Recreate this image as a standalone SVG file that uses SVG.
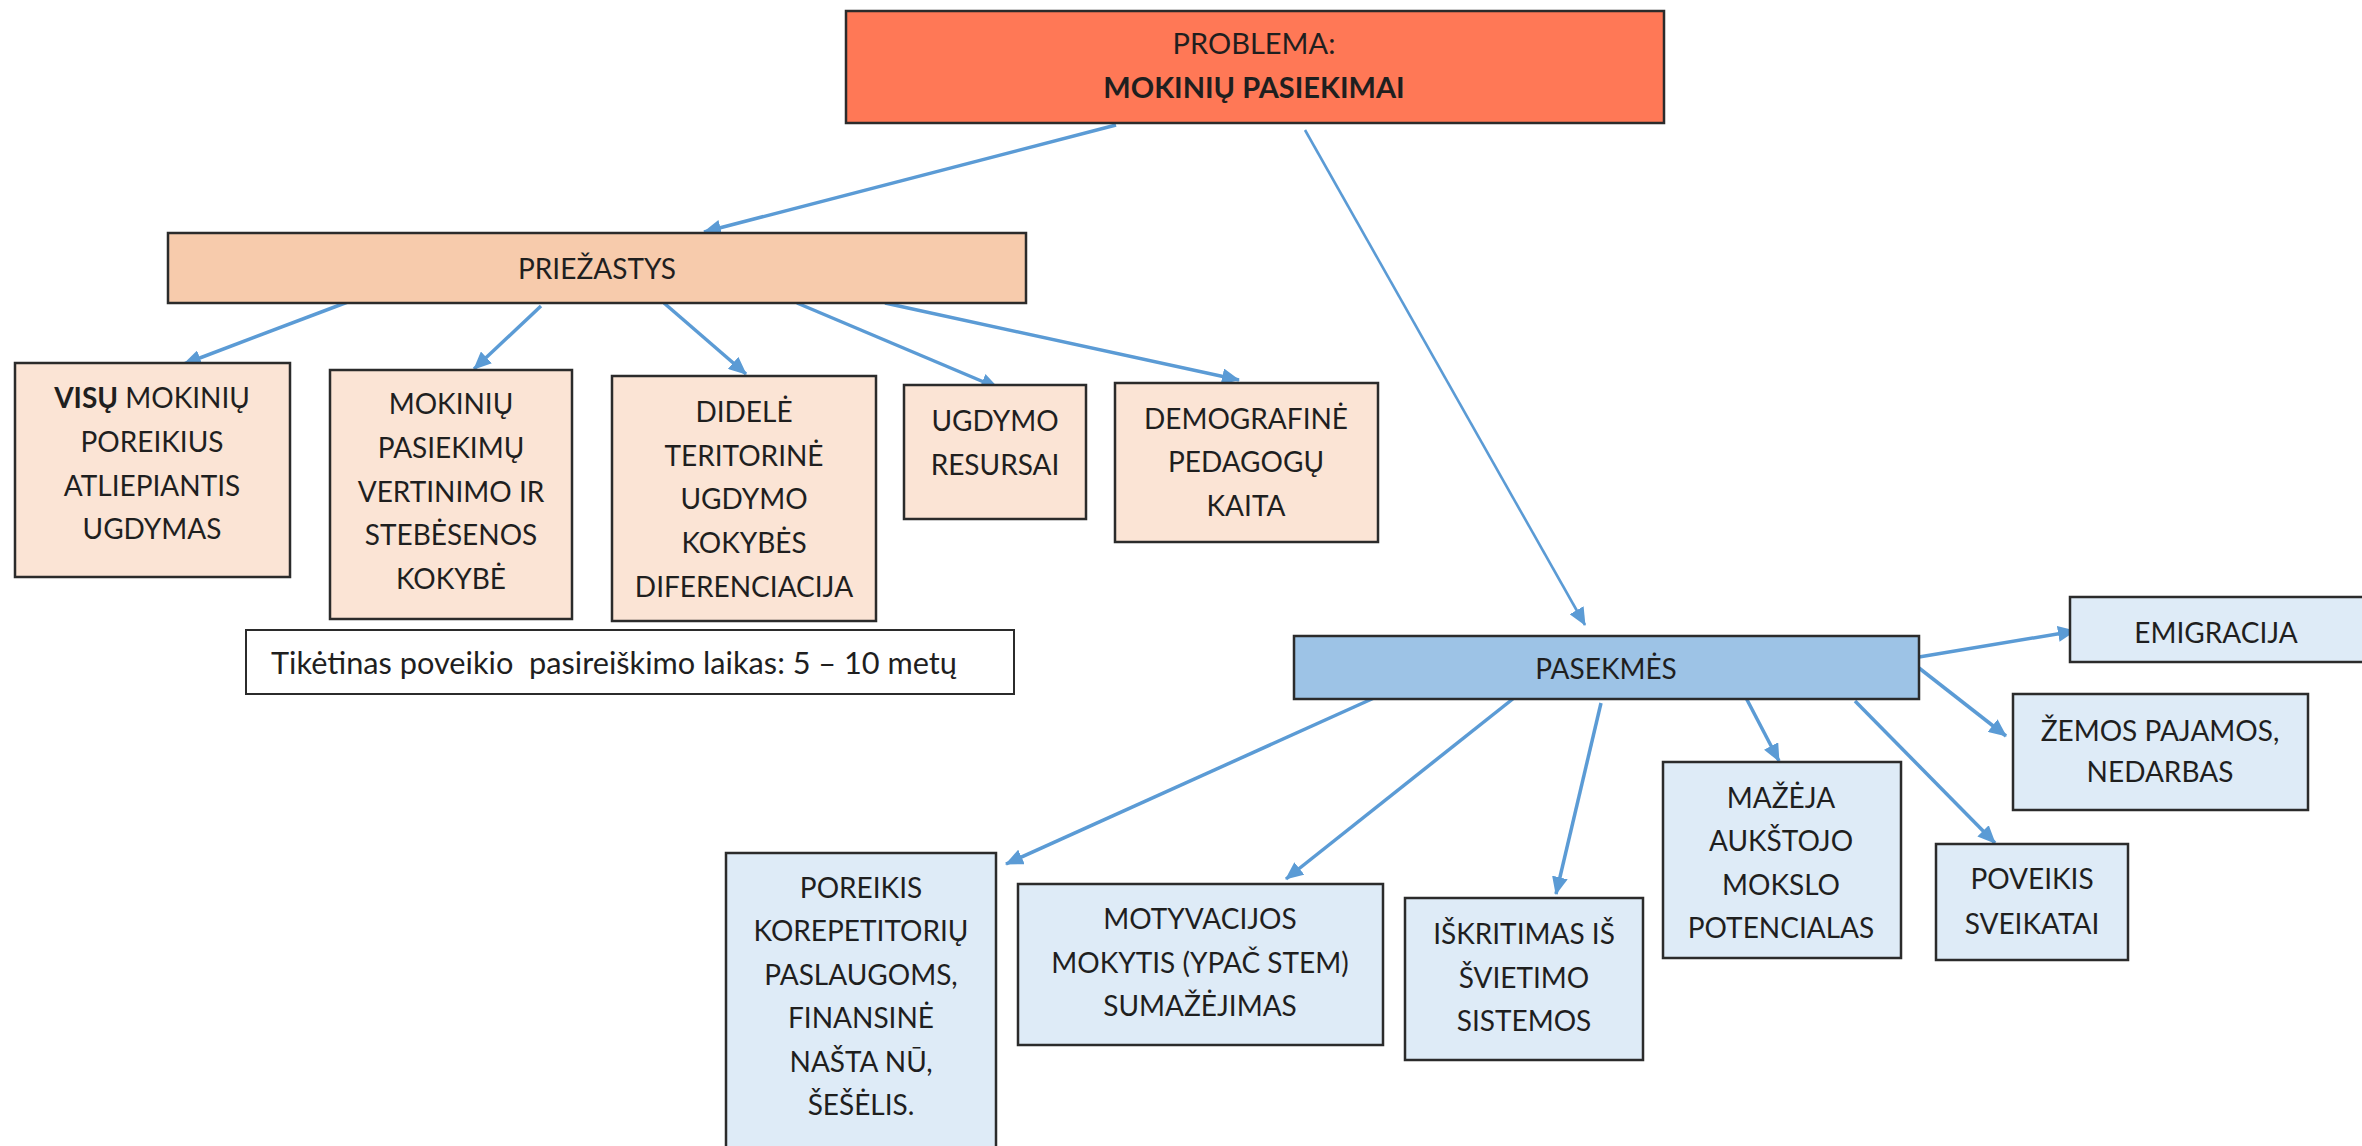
<svg xmlns="http://www.w3.org/2000/svg" width="2362" height="1146" viewBox="0 0 2362 1146">
<style>
  .bx { stroke: #2b2b2b; stroke-width: 2.5; }
  .prob { fill: #FF7856; }
  .cause-h { fill: #F7CBAC; }
  .cause { fill: #FBE4D5; }
  .cons-h { fill: #9DC3E6; }
  .cons { fill: #DEEBF7; }
  .note { fill: #ffffff; stroke: #2b2b2b; stroke-width: 2; }
  text { font-family: Lato, "Open Sans", "DejaVu Sans", sans-serif; font-size: 28px; fill: #1f1f1f; text-anchor: middle; }
  .b { font-weight: bold; }
  .big { font-size: 29px; }
  .l { text-anchor: start; font-size: 30px; }
  .conn line { stroke: #5B9BD5; stroke-width: 3.5; fill: none; }
  .conn line.thin { stroke-width: 2.6; }
</style>
<defs>
  <marker id="ah" markerUnits="userSpaceOnUse" markerWidth="18" markerHeight="16" refX="17" refY="8" orient="auto">
    <path d="M0,0 L18,8 L0,16 Z" fill="#5B9BD5"/>
  </marker>
</defs>
<rect width="2362" height="1146" fill="#ffffff"/>

<g class="conn">
  <line x1="1116" y1="125" x2="704" y2="232" marker-end="url(#ah)"/>
  <line class="thin" x1="1305" y1="130" x2="1585" y2="625" marker-end="url(#ah)"/>
  <line x1="353" y1="300" x2="184" y2="364" marker-end="url(#ah)"/>
  <line x1="541" y1="306" x2="474" y2="369" marker-end="url(#ah)"/>
  <line x1="664" y1="303" x2="746" y2="374" marker-end="url(#ah)"/>
  <line x1="797" y1="303" x2="998" y2="388" marker-end="url(#ah)"/>
  <line x1="885" y1="303" x2="1239" y2="380" marker-end="url(#ah)"/>
  <line x1="1374" y1="698" x2="1006" y2="864" marker-end="url(#ah)"/>
  <line x1="1514" y1="698" x2="1286" y2="879" marker-end="url(#ah)"/>
  <line x1="1601" y1="703" x2="1556" y2="894" marker-end="url(#ah)"/>
  <line x1="1744" y1="694" x2="1779" y2="761" marker-end="url(#ah)"/>
  <line x1="1855" y1="701" x2="1995" y2="843" marker-end="url(#ah)"/>
  <line x1="1919" y1="668" x2="2006" y2="736" marker-end="url(#ah)"/>
  <line x1="1919" y1="657" x2="2075" y2="631" marker-end="url(#ah)"/>
</g>

<g id="problema">
  <rect class="bx prob" x="846" y="11" width="818" height="112"/>
  <text class="big" x="1254" y="54">PROBLEMA:</text>
  <text class="b big" x="1254" y="98">MOKINIŲ PASIEKIMAI</text>
</g>

<g id="priezastys">
  <rect class="bx cause-h" x="168" y="233" width="858" height="70"/>
  <text x="597" y="279">PRIEŽASTYS</text>
</g>

<g id="c1">
  <rect class="bx cause" x="15" y="363" width="275" height="214"/>
  <text x="152" y="408"><tspan class="b">VISŲ</tspan> MOKINIŲ</text>
  <text x="152" y="452">POREIKIUS</text>
  <text x="152" y="496">ATLIEPIANTIS</text>
  <text x="152" y="539">UGDYMAS</text>
</g>

<g id="c2">
  <rect class="bx cause" x="330" y="370" width="242" height="249"/>
  <text x="451" y="414">MOKINIŲ</text>
  <text x="451" y="458">PASIEKIMŲ</text>
  <text x="451" y="502">VERTINIMO IR</text>
  <text x="451" y="545">STEBĖSENOS</text>
  <text x="451" y="589">KOKYBĖ</text>
</g>

<g id="c3">
  <rect class="bx cause" x="612" y="376" width="264" height="245"/>
  <text x="744" y="422">DIDELĖ</text>
  <text x="744" y="466">TERITORINĖ</text>
  <text x="744" y="509">UGDYMO</text>
  <text x="744" y="553">KOKYBĖS</text>
  <text x="744" y="597">DIFERENCIACIJA</text>
</g>

<g id="c4">
  <rect class="bx cause" x="904" y="385" width="182" height="134"/>
  <text x="995" y="431">UGDYMO</text>
  <text x="995" y="475">RESURSAI</text>
</g>

<g id="c5">
  <rect class="bx cause" x="1115" y="383" width="263" height="159"/>
  <text x="1246" y="429">DEMOGRAFINĖ</text>
  <text x="1246" y="472">PEDAGOGŲ</text>
  <text x="1246" y="516">KAITA</text>
</g>

<g id="note">
  <rect class="note" x="246" y="630" width="768" height="64"/>
  <text class="l" x="271" y="674" textLength="686" lengthAdjust="spacingAndGlyphs" xml:space="preserve">Tikėtinas poveikio  pasireiškimo laikas: 5 – 10 metų</text>
</g>

<g id="pasekmes">
  <rect class="bx cons-h" x="1294" y="636" width="625" height="63"/>
  <text x="1606" y="679">PASEKMĖS</text>
</g>

<g id="emigracija">
  <rect class="bx cons" x="2070" y="597" width="300" height="65"/>
  <text x="2216" y="643">EMIGRACIJA</text>
</g>

<g id="zemos">
  <rect class="bx cons" x="2013" y="694" width="295" height="116"/>
  <text x="2160" y="741">ŽEMOS PAJAMOS,</text>
  <text x="2160" y="782">NEDARBAS</text>
</g>

<g id="mazeja">
  <rect class="bx cons" x="1663" y="762" width="238" height="196"/>
  <text x="1781" y="808">MAŽĖJA</text>
  <text x="1781" y="851">AUKŠTOJO</text>
  <text x="1781" y="895">MOKSLO</text>
  <text x="1781" y="938">POTENCIALAS</text>
</g>

<g id="poveikis">
  <rect class="bx cons" x="1936" y="844" width="192" height="116"/>
  <text x="2032" y="889">POVEIKIS</text>
  <text x="2032" y="934">SVEIKATAI</text>
</g>

<g id="iskritimas">
  <rect class="bx cons" x="1405" y="898" width="238" height="162"/>
  <text x="1524" y="944">IŠKRITIMAS IŠ</text>
  <text x="1524" y="988">ŠVIETIMO</text>
  <text x="1524" y="1031">SISTEMOS</text>
</g>

<g id="motyvacijos">
  <rect class="bx cons" x="1018" y="884" width="365" height="161"/>
  <text x="1200" y="929">MOTYVACIJOS</text>
  <text x="1200" y="973">MOKYTIS (YPAČ STEM)</text>
  <text x="1200" y="1016">SUMAŽĖJIMAS</text>
</g>

<g id="poreikis">
  <rect class="bx cons" x="726" y="853" width="270" height="300"/>
  <text x="861" y="898">POREIKIS</text>
  <text x="861" y="941">KOREPETITORIŲ</text>
  <text x="861" y="985">PASLAUGOMS,</text>
  <text x="861" y="1028">FINANSINĖ</text>
  <text x="861" y="1072">NAŠTA NŪ,</text>
  <text x="861" y="1115">ŠEŠĖLIS.</text>
</g>
</svg>
